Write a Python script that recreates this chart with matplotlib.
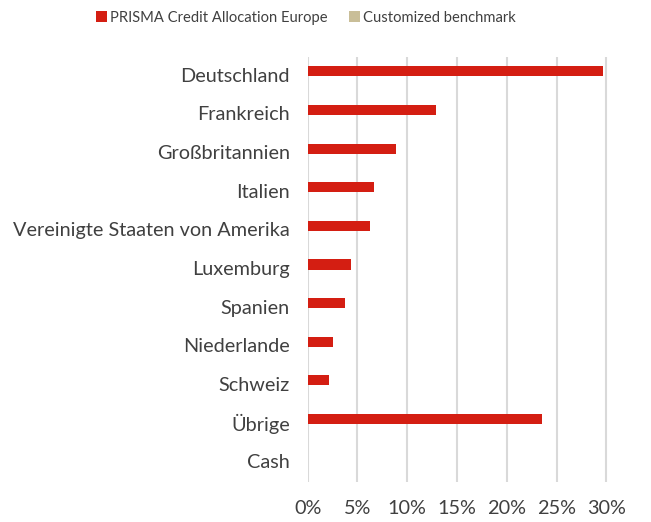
import matplotlib.pyplot as plt
import numpy as np
from matplotlib.ticker import FuncFormatter

plt.rcParams['font.family'] = ['Lato', 'DejaVu Sans']

# data
countries = ["Deutschland", "Frankreich", "Großbritannien", "Italien",
             "Vereinigte Staaten von Amerika", "Luxemburg", "Spanien",
             "Niederlande", "Schweiz", "Übrige", "Cash"]
fund = [29.7, 12.9, 8.9, 6.7, 6.3, 4.3, 3.7, 2.5, 2.1, 23.5, 0.0]
benchmark = [0, 0, 0, 0, 0, 0, 0, 0, 0, 0, 0]
xticks = [0, 5, 10, 15, 20, 25, 30]

red = "#D41E12"
tan = "#C9BE98"
txt = "#404040"

fig = plt.figure(figsize=(6.51, 5.22), dpi=100)
ax = fig.add_axes([0.4727, 0.0766, 0.4617, 0.8142])

y = np.arange(len(countries))
h = 0.26
ax.barh(y - h / 2, fund, height=h, color=red, label="PRISMA Credit Allocation Europe")
ax.barh(y + h / 2, benchmark, height=h, color=tan, label="Customized benchmark")

ax.set_ylim(len(countries) - 0.5, -0.5)
ax.set_xlim(0, 30.2)
ax.set_xticks(xticks)
ax.xaxis.set_major_formatter(FuncFormatter(lambda v, p: f"{v:.0f}%"))
ax.set_yticks(y)
ax.set_yticklabels(countries, va="bottom")

ax.grid(axis="x", color="#D9D9D9", linewidth=1.5)
ax.set_axisbelow(True)
for s in ax.spines.values():
    s.set_visible(False)
ax.tick_params(axis="both", length=0, labelsize=14.3, colors=txt)
ax.tick_params(axis="y", pad=13)
ax.tick_params(axis="x", pad=13)
for t in ax.get_yticklabels():
    t.set_va("center")
    t.set_y(t.get_position()[1])

fig.legend(loc="upper center", bbox_to_anchor=(0.47, 1.005), ncol=2, frameon=False,
           fontsize=10.6, handlelength=0.75, handleheight=0.75, handletextpad=0.2,
           columnspacing=1.5, labelcolor=txt)

fig.savefig("out.png", dpi=100)
